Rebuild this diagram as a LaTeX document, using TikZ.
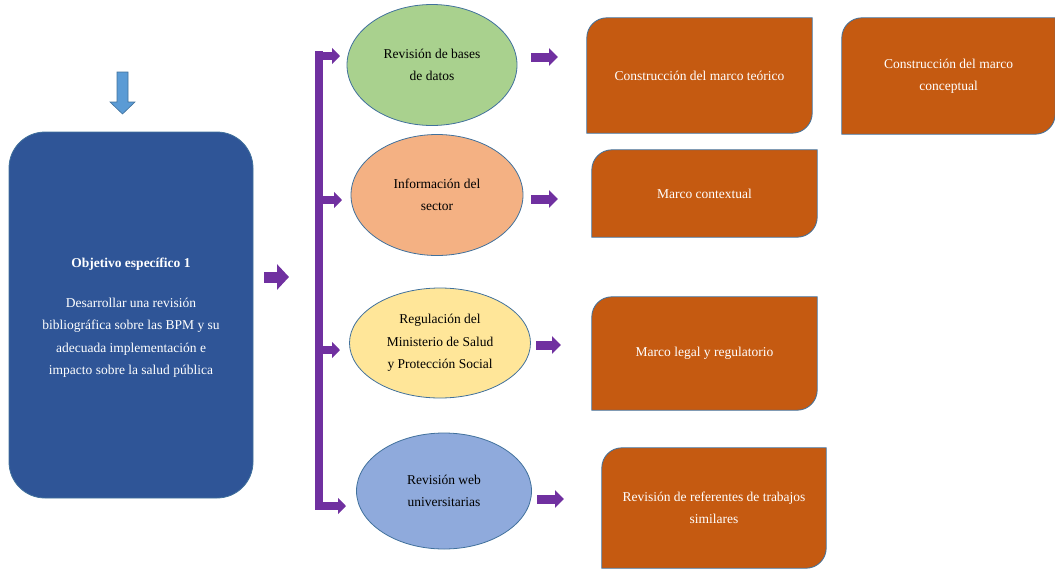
\documentclass[tikz,border=0pt]{standalone}
\usepackage{fontspec}
\setmainfont{Liberation Serif}
\usetikzlibrary{shapes.geometric,arrows.meta,backgrounds}

\definecolor{objblue}{HTML}{2F5597}
\definecolor{edgeblue}{HTML}{41719C}
\definecolor{downblue}{HTML}{5B9BD5}
\definecolor{arrowpurple}{HTML}{7030A0}
\definecolor{greenfill}{HTML}{A9D18E}
\definecolor{peachfill}{HTML}{F4B183}
\definecolor{yellowfill}{HTML}{FFE699}
\definecolor{lightblue}{HTML}{8FAADC}
\definecolor{rust}{HTML}{C55A11}

% rectangle with the top-left and bottom-right corners rounded (radius 20pt)
\newcommand\diagshape[1]{%
  \path[rustfill] (#1.south west) -- ([yshift=-20pt]#1.north west)
    .. controls ([yshift=-9pt]#1.north west) and ([xshift=9pt]#1.north west)
    .. ([xshift=20pt]#1.north west)
    -- (#1.north east) -- ([yshift=20pt]#1.south east)
    .. controls ([yshift=9pt]#1.south east) and ([xshift=-9pt]#1.south east)
    .. ([xshift=-20pt]#1.south east) -- cycle;}

\begin{document}
\begin{tikzpicture}[x=1pt,y=-1pt,
  txt/.style={font=\fontsize{13.5}{22.5}\selectfont, align=center},
  objbox/.style={rectangle, rounded corners=36pt, fill=objblue, draw=edgeblue,
    line width=0.8pt, inner sep=0pt},
  ell/.style={ellipse, draw=edgeblue, line width=0.8pt, inner sep=0pt, txt, text=black},
  obox/.style={rectangle, inner sep=0pt, txt, text=white},
  rustfill/.style={fill=rust, draw=edgeblue, line width=0.8pt},
  parm/.style={draw=arrowpurple, line width=8pt, -{Triangle[length=8pt,width=16pt]}},
  parrow/.style={draw=arrowpurple, line width=9pt, -{Triangle[length=9pt,width=17pt]}},
  bigarrow/.style={draw=arrowpurple, line width=11pt, -{Triangle[length=12pt,width=25pt]}}]
\useasboundingbox (0,0) rectangle (1055,568);

% downward arrow into the objective
\filldraw[fill=downblue, draw=edgeblue, line width=0.6pt]
  (117,72) -- (128,72) -- (128,102) -- (135,102) -- (122.5,114)
  -- (110,102) -- (117,102) -- cycle;

% objective box
\node[objbox, minimum width=244pt, minimum height=366pt] (obj) at (131,315) {};
\node[txt, text=white] (objtext) at ([yshift=-3pt]obj.center)
  {\textbf{Objetivo específico 1}\\[17pt]
   Desarrollar una revisión\\
   bibliográfica sobre las BPM y su\\
   adecuada implementación e\\
   impacto sobre la salud pública};

\draw[bigarrow] (264,277) -- (289,277);

% bracket feeding the four sources
\fill[arrowpurple] (315,51) rectangle (323,510);
\draw[parm] (315,56) -- (340,56);
\draw[parm] (315,200) -- (342,200);
\draw[parm] (315,350) -- (340,350);
\draw[parm] (315,506) -- (346,506);

% sources
\node[ell, fill=greenfill, minimum width=170pt, minimum height=121pt] (e1) at (432,65)
  {Revisión de bases\\de datos};
\node[ell, fill=peachfill, minimum width=172pt, minimum height=121pt] (e2) at (437,195)
  {Información del\\sector};
\node[ell, fill=yellowfill, minimum width=181pt, minimum height=110pt] (e3) at (440,343)
  {Regulación del\\Ministerio de Salud\\y Protección Social};
\node[ell, fill=lightblue, minimum width=175pt, minimum height=116pt] (e4) at (444,491)
  {Revisión web\\universitarias};

\draw[parrow] (531,57) -- (558,57);
\draw[parrow] (531,199) -- (558,199);
\draw[parrow] (536,345) -- (561,345);
\draw[parrow] (537,499) -- (564,499);

% resulting frameworks
\node[obox, minimum width=225pt, minimum height=115pt] (b1) at (699.5,75.5)
  {Construcción del marco teórico};
\node[obox, minimum width=213pt, minimum height=116pt] (b2) at (948.5,76)
  {Construcción del marco\\conceptual};
\node[obox, minimum width=225pt, minimum height=87pt] (b3) at (704.5,193.5)
  {Marco contextual};
\node[obox, minimum width=225pt, minimum height=113pt] (b4) at (704.5,353.5)
  {Marco legal y regulatorio};
\node[obox, minimum width=224pt, minimum height=120pt] (b5) at (714,508)
  {Revisión de referentes de trabajos\\similares};

\begin{scope}[on background layer]
  \diagshape{b1}
  \diagshape{b2}
  \diagshape{b3}
  \diagshape{b4}
  \diagshape{b5}
\end{scope}
\end{tikzpicture}
\end{document}
